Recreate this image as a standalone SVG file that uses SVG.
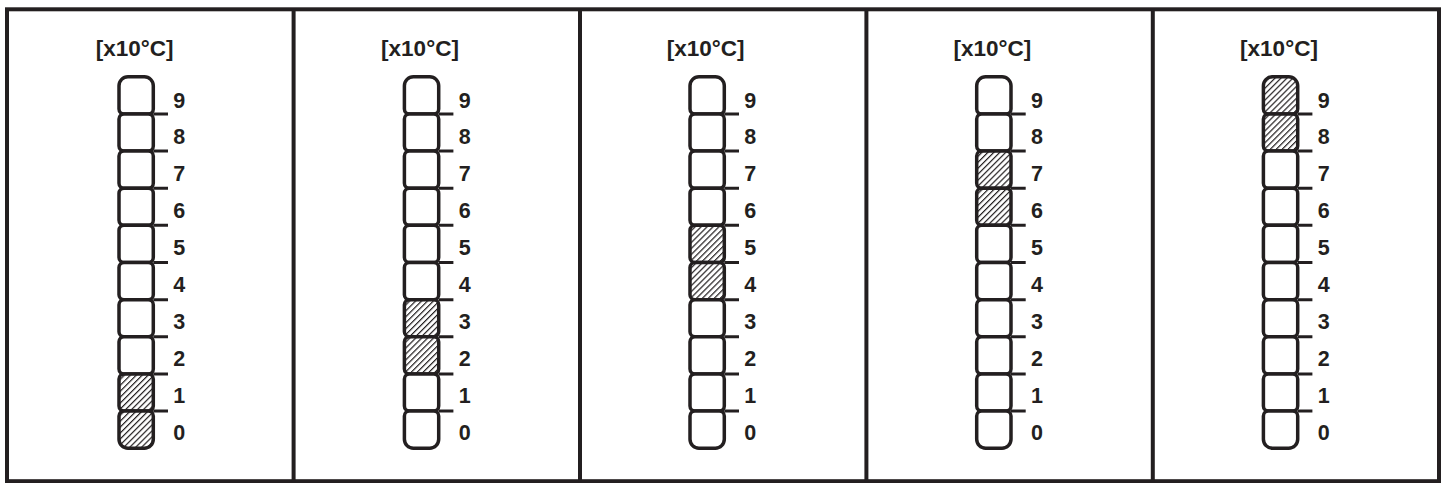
<svg xmlns="http://www.w3.org/2000/svg" xmlns:xlink="http://www.w3.org/1999/xlink" width="1448" height="483" viewBox="0 0 1448 483">
<defs>
<pattern id="hatch" patternUnits="userSpaceOnUse" width="4.2" height="4.2" patternTransform="rotate(45)">
<rect width="4.2" height="4.2" fill="#ffffff"/>
<line x1="0.6" y1="0" x2="0.6" y2="4.2" stroke="#231f20" stroke-width="1.2"/>
</pattern>
<path id="ctop" d="M119,108.9 V85.75 A9,9 0 0 1 128,76.75 H144.3 A9,9 0 0 1 153.3,85.75 V108.9 A5,5 0 0 1 148.3,113.9 H124 A5,5 0 0 1 119,108.9 Z"/>
<path id="cbot" d="M119,416.1 A5,5 0 0 1 124,411.1 H148.3 A5,5 0 0 1 153.3,416.1 V439.25 A9,9 0 0 1 144.3,448.25 H128 A9,9 0 0 1 119,439.25 Z"/>
<rect id="cmid" x="119" y="0" width="34.3" height="37.15" rx="5" ry="5"/>
<path id="ticks" d="M153.3,113.9 H168 M153.3,151.05 H168 M153.3,188.2 H168 M153.3,225.35 H168 M153.3,262.5 H168 M153.3,299.65 H168 M153.3,336.8 H168 M153.3,373.95 H168 M153.3,411.1 H168"/>
<g id="labels">
<text x="179.3" y="107.5">9</text>
<text x="179.3" y="144.4">8</text>
<text x="179.3" y="181.3">7</text>
<text x="179.3" y="218.2">6</text>
<text x="179.3" y="255.1">5</text>
<text x="179.3" y="292">4</text>
<text x="179.3" y="328.9">3</text>
<text x="179.3" y="365.8">2</text>
<text x="179.3" y="402.7">1</text>
<text x="179.3" y="439.6">0</text>
</g>
</defs>
<style>
.frame{fill:#ffffff;stroke:#231f20;stroke-width:4}
.div{stroke:#231f20;stroke-width:4;fill:none}
.cell{fill:#ffffff;stroke:#231f20;stroke-width:3.5}
.hat{fill:url(#hatch);stroke:#231f20;stroke-width:3.5}
.tick{stroke:#231f20;stroke-width:3;fill:none}
.hdr{font-family:"Liberation Sans",Arial,sans-serif;font-weight:bold;font-size:22.5px;fill:#231f20;text-anchor:middle}
.lab{font-family:"Liberation Sans",Arial,sans-serif;font-weight:bold;font-size:21.5px;fill:#231f20;text-anchor:middle}
</style>
<rect class="frame" x="7" y="9.3" width="1432" height="471.9"/>
<g id="dividers">
<line class="div" x1="293.6" y1="9.3" x2="293.6" y2="481.2"/>
<line class="div" x1="580" y1="9.3" x2="580" y2="481.2"/>
<line class="div" x1="866.4" y1="9.3" x2="866.4" y2="481.2"/>
<line class="div" x1="1152.8" y1="9.3" x2="1152.8" y2="481.2"/>
</g>
<g id="panel1" transform="translate(0,0)">
<text class="hdr" x="134.6" y="56">[x10°C]</text>
<use xlink:href="#ctop" class="cell"/>
<use xlink:href="#cmid" class="cell" y="113.9"/>
<use xlink:href="#cmid" class="cell" y="151.05"/>
<use xlink:href="#cmid" class="cell" y="188.2"/>
<use xlink:href="#cmid" class="cell" y="225.35"/>
<use xlink:href="#cmid" class="cell" y="262.5"/>
<use xlink:href="#cmid" class="cell" y="299.65"/>
<use xlink:href="#cmid" class="cell" y="336.8"/>
<use xlink:href="#cmid" class="hat" y="373.95"/>
<use xlink:href="#cbot" class="hat"/>
<use xlink:href="#ticks" class="tick"/>
<use xlink:href="#labels" class="lab"/>
</g>
<g id="panel2" transform="translate(285.4,0)">
<text class="hdr" x="134.6" y="56">[x10°C]</text>
<use xlink:href="#ctop" class="cell"/>
<use xlink:href="#cmid" class="cell" y="113.9"/>
<use xlink:href="#cmid" class="cell" y="151.05"/>
<use xlink:href="#cmid" class="cell" y="188.2"/>
<use xlink:href="#cmid" class="cell" y="225.35"/>
<use xlink:href="#cmid" class="cell" y="262.5"/>
<use xlink:href="#cmid" class="hat" y="299.65"/>
<use xlink:href="#cmid" class="hat" y="336.8"/>
<use xlink:href="#cmid" class="cell" y="373.95"/>
<use xlink:href="#cbot" class="cell"/>
<use xlink:href="#ticks" class="tick"/>
<use xlink:href="#labels" class="lab"/>
</g>
<g id="panel3" transform="translate(571,0)">
<text class="hdr" x="134.6" y="56">[x10°C]</text>
<use xlink:href="#ctop" class="cell"/>
<use xlink:href="#cmid" class="cell" y="113.9"/>
<use xlink:href="#cmid" class="cell" y="151.05"/>
<use xlink:href="#cmid" class="cell" y="188.2"/>
<use xlink:href="#cmid" class="hat" y="225.35"/>
<use xlink:href="#cmid" class="hat" y="262.5"/>
<use xlink:href="#cmid" class="cell" y="299.65"/>
<use xlink:href="#cmid" class="cell" y="336.8"/>
<use xlink:href="#cmid" class="cell" y="373.95"/>
<use xlink:href="#cbot" class="cell"/>
<use xlink:href="#ticks" class="tick"/>
<use xlink:href="#labels" class="lab"/>
</g>
<g id="panel4" transform="translate(857.7,0)">
<text class="hdr" x="134.6" y="56">[x10°C]</text>
<use xlink:href="#ctop" class="cell"/>
<use xlink:href="#cmid" class="cell" y="113.9"/>
<use xlink:href="#cmid" class="hat" y="151.05"/>
<use xlink:href="#cmid" class="hat" y="188.2"/>
<use xlink:href="#cmid" class="cell" y="225.35"/>
<use xlink:href="#cmid" class="cell" y="262.5"/>
<use xlink:href="#cmid" class="cell" y="299.65"/>
<use xlink:href="#cmid" class="cell" y="336.8"/>
<use xlink:href="#cmid" class="cell" y="373.95"/>
<use xlink:href="#cbot" class="cell"/>
<use xlink:href="#ticks" class="tick"/>
<use xlink:href="#labels" class="lab"/>
</g>
<g id="panel5" transform="translate(1144.4,0)">
<text class="hdr" x="134.6" y="56">[x10°C]</text>
<use xlink:href="#ctop" class="hat"/>
<use xlink:href="#cmid" class="hat" y="113.9"/>
<use xlink:href="#cmid" class="cell" y="151.05"/>
<use xlink:href="#cmid" class="cell" y="188.2"/>
<use xlink:href="#cmid" class="cell" y="225.35"/>
<use xlink:href="#cmid" class="cell" y="262.5"/>
<use xlink:href="#cmid" class="cell" y="299.65"/>
<use xlink:href="#cmid" class="cell" y="336.8"/>
<use xlink:href="#cmid" class="cell" y="373.95"/>
<use xlink:href="#cbot" class="cell"/>
<use xlink:href="#ticks" class="tick"/>
<use xlink:href="#labels" class="lab"/>
</g>
</svg>
